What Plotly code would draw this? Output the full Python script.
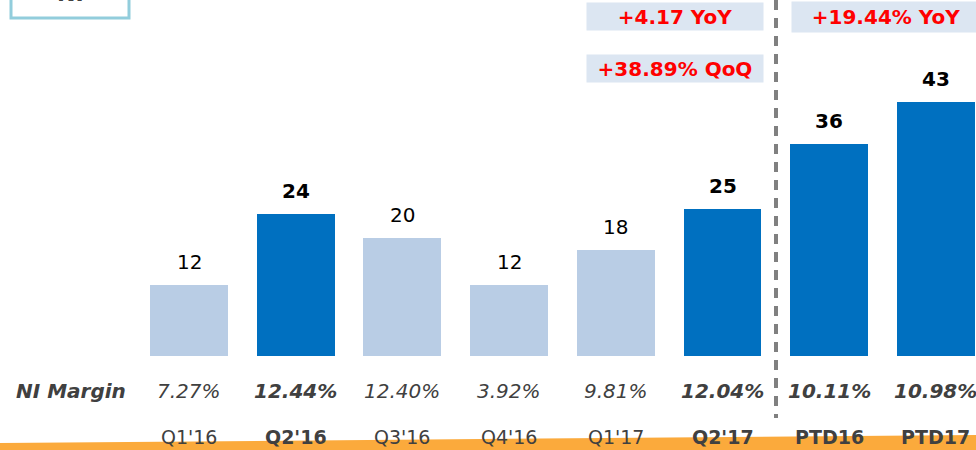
import plotly.graph_objects as go

categories = ["Q1'16", "Q2'16", "Q3'16", "Q4'16", "Q1'17", "Q2'17", "PTD16", "PTD17"]
ni_values = [12, 24, 20, 12, 18, 25, 36, 43]
ni_margin = ["7.27%", "12.44%", "12.40%", "3.92%", "9.81%", "12.04%", "10.11%", "10.98%"]
highlight = [False, True, False, False, False, True, True, True]
yoy_quarter = "+4.17 YoY"
qoq_quarter = "+38.89% QoQ"
yoy_ptd = "+19.44% YoY"

W, H = 976, 450
LIGHT = "#B9CDE5"
DARK = "#0070C0"
FONT = "DejaVu Sans"

# pixel geometry helpers
x_first, x_step = 189.0, 106.7
base_px, px_per_unit = 356.0, 5.9
xr = [(0 - x_first) / x_step, (W - x_first) / x_step]
yr = [(base_px - H) / px_per_unit, base_px / px_per_unit]

def px_x(p):
    return p / W

def px_y(p):
    return 1 - p / H

idx = list(range(len(categories)))
fig = go.Figure()
fig.add_trace(go.Bar(
    x=idx, y=ni_values, width=0.73,
    marker=dict(color=[DARK if h else LIGHT for h in highlight], line=dict(width=0)),
    hoverinfo="skip",
))

ann = []
for i, (v, m, c, h) in enumerate(zip(ni_values, ni_margin, categories, highlight)):
    b = (lambda s: f"<b>{s}</b>") if h else (lambda s: s)
    ann.append(dict(x=i, y=v, xref="x", yref="y", text=b(str(v)), showarrow=False,
                    yanchor="bottom", yshift=9,
                    font=dict(family=FONT, size=20, color="#000000")))
    ann.append(dict(x=i, y=px_y(391), xref="x", yref="paper", text=f"<i>{b(m)}</i>",
                    showarrow=False, yanchor="middle",
                    font=dict(family=FONT, size=20, color="#404040")))
    ann.append(dict(x=i, y=px_y(437), xref="x", yref="paper", text=b(c),
                    showarrow=False, yanchor="middle",
                    font=dict(family=FONT, size=19, color="#404040")))

ann.append(dict(x=px_x(14), y=px_y(391), xref="paper", yref="paper",
                text="<b><i>NI Margin</i></b>", showarrow=False, xanchor="left", yanchor="middle",
                font=dict(family=FONT, size=20, color="#404040")))

for txt, x0, x1, y0, y1 in [(yoy_quarter, 587, 763, 3, 30),
                            (qoq_quarter, 587, 763, 55, 82),
                            (yoy_ptd, 792, 980, 2, 32)]:
    ann.append(dict(x=px_x((x0 + x1) / 2), y=px_y((y0 + y1) / 2), xref="paper", yref="paper",
                    text=f"<b>{txt}</b>", showarrow=False, xanchor="center", yanchor="middle",
                    width=x1 - x0, height=y1 - y0, bgcolor="#DCE6F2", borderpad=0,
                    font=dict(family=FONT, size=20, color="#FF0000")))

ann.append(dict(x=px_x(70), y=px_y(-7), xref="paper", yref="paper", text="<b>NI</b>",
                showarrow=False, xanchor="center", yanchor="middle",
                font=dict(family=FONT, size=22, color="#404040")))

shapes = [
    dict(type="rect", xref="paper", yref="paper", x0=px_x(11), x1=px_x(129),
         y0=px_y(18), y1=px_y(-30), line=dict(color="#92CDDC", width=3), fillcolor="rgba(0,0,0,0)"),
    dict(type="line", xref="paper", yref="paper", x0=px_x(776), x1=px_x(776),
         y0=px_y(0), y1=px_y(418), line=dict(color="#808080", width=4, dash="10px,8px")),
    dict(type="path", xref="paper", yref="paper",
         path=f"M 0 {px_y(443)} L 1 {px_y(435)} L 1 0 L 0 0 Z",
         fillcolor="#FBAA3C", line=dict(width=0)),
]

fig.update_layout(
    width=W, height=H,
    margin=dict(l=0, r=0, t=0, b=0),
    paper_bgcolor="white", plot_bgcolor="white",
    showlegend=False,
    xaxis=dict(range=xr, visible=False, fixedrange=True),
    yaxis=dict(range=yr, visible=False, fixedrange=True),
    annotations=ann, shapes=shapes,
    bargap=0,
)
fig.write_html("out.html", config={"displayModeBar": False},
               post_script="document.body.style.margin='0';document.body.style.overflow='hidden';")
